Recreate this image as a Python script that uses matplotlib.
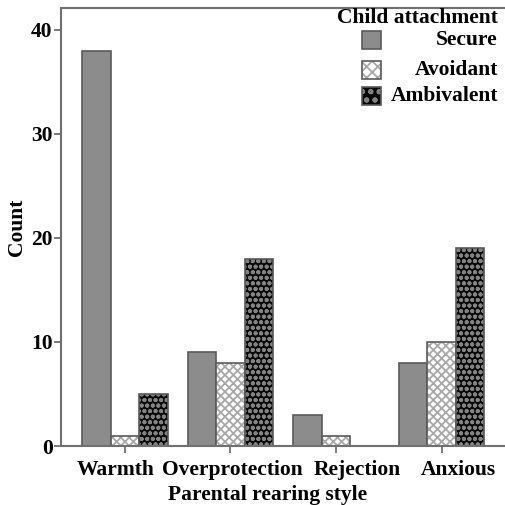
import numpy as np
import matplotlib.pyplot as plt
import matplotlib.transforms as mtransforms
from matplotlib.patches import Rectangle

plt.rcParams['font.family'] = ['Liberation Serif', 'DejaVu Serif']
plt.rcParams['font.weight'] = 'bold'
plt.rcParams['hatch.linewidth'] = 1.3

# data
styles = ["Warmth", "Overprotection", "Rejection", "Anxious"]
attach = ["Secure", "Avoidant", "Ambivalent"]
secure = [38, 9, 3, 8]
avoidant = [1, 8, 1, 10]
ambivalent = [5, 18, 0, 19]

fs = 15.5

fig = plt.figure(figsize=(5.05, 5.05), dpi=100)
ax = fig.add_axes([61 / 505, 59 / 505, 444 / 505, 438 / 505])

x = np.arange(len(styles))
w = 0.27
edge = "#5a5a5a"
sec_c = "#8c8c8c"
avo_h = "#a8a8a8"
amb_f, amb_h = "#080808", "#828282"

ax.bar(x - w, secure, w, color=sec_c, edgecolor=edge, linewidth=1.2)
ax.bar(x, avoidant, w, color="white", edgecolor=avo_h, hatch="xxxx", linewidth=0)
ax.bar(x, avoidant, w, fill=False, edgecolor=edge, linewidth=1.2)
amb_vals = [v if v > 0 else np.nan for v in ambivalent]
ax.bar(x + w, amb_vals, w, color=amb_f, edgecolor=amb_h, hatch="ooo", linewidth=0)
ax.bar(x + w, amb_vals, w, fill=False, edgecolor=edge, linewidth=1.2)

ax.set_xlim(-0.605, 3.6)
ax.set_ylim(0, 42.1)
ax.set_yticks([0, 10, 20, 30, 40])
ax.set_xticks(x)
ax.set_xticklabels(styles)

ax.spines['right'].set_visible(False)
for s in ['left', 'top', 'bottom']:
    ax.spines[s].set_color("#707070")
    ax.spines[s].set_linewidth(1.5)
ax.tick_params(axis='both', length=5, width=1.3, color="#707070", labelsize=fs, pad=1)
ax.tick_params(axis='x', pad=5)

# category labels sit a little off their ticks in the original
shifts = [-9, 2, 21, 17]
for lab, dx in zip(ax.get_xticklabels(), shifts):
    lab.set_transform(lab.get_transform() + mtransforms.ScaledTranslation(dx / 100, 0, fig.dpi_scale_trans))

ax.set_ylabel("Count", fontsize=fs, fontweight='bold', labelpad=3)
ax.set_xlabel("Parental rearing style", fontsize=fs, fontweight='bold')
ax.xaxis.set_label_coords(0.466, -0.088)

# legend drawn by hand, text right aligned
ax.text(0.984, 0.977, "Child attachment", transform=ax.transAxes, ha='right', va='center',
        fontsize=fs, fontweight='bold')
rows = [0.927, 0.858, 0.799]
sw = 0.043
ax.add_patch(Rectangle((0.678, rows[0] - 0.02), sw, 0.041, transform=ax.transAxes,
                       facecolor=sec_c, edgecolor=edge, linewidth=1.2))
ax.add_patch(Rectangle((0.678, rows[1] - 0.02), sw, 0.041, transform=ax.transAxes,
                       facecolor="white", edgecolor=avo_h, hatch="xxx", linewidth=0))
ax.add_patch(Rectangle((0.678, rows[1] - 0.02), sw, 0.041, transform=ax.transAxes,
                       fill=False, edgecolor=edge, linewidth=1.2))
ax.add_patch(Rectangle((0.678, rows[2] - 0.02), sw, 0.041, transform=ax.transAxes,
                       facecolor=amb_f, edgecolor=amb_h, hatch="oo", linewidth=0))
ax.add_patch(Rectangle((0.678, rows[2] - 0.02), sw, 0.041, transform=ax.transAxes,
                       fill=False, edgecolor=edge, linewidth=1.2))
for r, name in zip(rows, attach):
    ax.text(0.984, r, name, transform=ax.transAxes, ha='right', va='center',
            fontsize=fs, fontweight='bold')

fig.savefig("out.png", dpi=100)
